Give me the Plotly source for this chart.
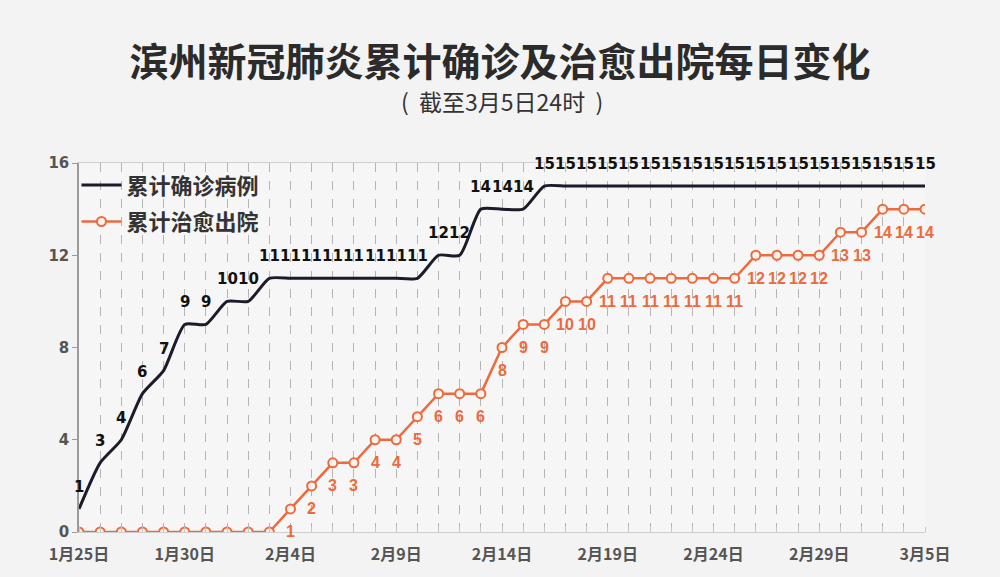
import plotly.graph_objects as go
import pandas as pd

# ---- data ----
dates = pd.date_range("2020-01-25", "2020-03-05", freq="D").strftime("%Y-%m-%d").tolist()
confirmed = [1, 3, 4, 6, 7, 9, 9, 10, 10,
             11, 11, 11, 11, 11, 11, 11, 11,
             12, 12,
             14, 14, 14,
             15, 15, 15, 15, 15, 15, 15, 15, 15, 15, 15, 15, 15, 15, 15, 15, 15, 15, 15]
recovered = [0, 0, 0, 0, 0, 0, 0, 0, 0, 0,
             1, 2, 3, 3, 4, 4, 5, 6, 6, 6, 8, 9, 9, 10, 10,
             11, 11, 11, 11, 11, 11, 11,
             12, 12, 12, 12,
             13, 13,
             14, 14, 14]
tick_dates = dates[::5]
tick_labels = ["1月25日", "1月30日", "2月4日", "2月9日", "2月14日", "2月19日", "2月24日", "2月29日", "3月5日"]
series_names = ["累计确诊病例", "累计治愈出院"]
title_text = "滨州新冠肺炎累计确诊及治愈出院每日变化"
subtitle_text = "(  截至3月5日24时  )"

BLACK = "#1b1b2a"
ORANGE = "#ec6a3e"
CJK = "Noto Sans CJK SC"

fig = go.Figure()
fig.add_trace(go.Scatter(
    x=dates, y=confirmed, name="<b>" + series_names[0] + "</b>", mode="lines",
    legendgroup="a",
    line=dict(color=BLACK, width=3, shape="spline", smoothing=0.6),
))
fig.add_trace(go.Scatter(
    x=dates, y=recovered, name="<b>" + series_names[1] + "</b>", mode="lines+markers",
    legendgroup="b",
    line=dict(color=ORANGE, width=2.5),
    marker=dict(symbol="circle", size=9, color="#fdf3ee", line=dict(color=ORANGE, width=2)),
))

for d, v in zip(dates, confirmed):
    fig.add_annotation(x=d, y=v, text="<b>%d</b>" % v, showarrow=False, yshift=22,
                       font=dict(family="DejaVu Sans", size=15, color="#111"),
                       xref="x", yref="y")
for d, v in zip(dates, recovered):
    if v == 0:
        continue
    fig.add_annotation(x=d, y=v, text="<b>%d</b>" % v, showarrow=False, yshift=-23,
                       font=dict(family="Liberation Sans Narrow, Liberation Sans", size=16, color=ORANGE),
                       xref="x", yref="y")

fig.add_annotation(text=subtitle_text, x=0.5, xref="paper", y=(532 - 101) / 369, yref="paper",
                   yanchor="middle", showarrow=False,
                   font=dict(family=CJK, size=23, color="#333"))

fig.update_layout(
    width=1000, height=577,
    margin=dict(l=79, r=75, t=163, b=45),
    paper_bgcolor="#f3f3f3", plot_bgcolor="#f6f6f6",
    title=dict(text="<b>" + title_text + "</b>", x=0.5, xanchor="center", y=1 - 62 / 577,
               yref="container", yanchor="middle",
               font=dict(family=CJK, size=39, color="#2b2b2b")),
    showlegend=True,
    legend=dict(x=-0.003, y=0.997, xanchor="left", yanchor="top", bgcolor="rgba(0,0,0,0)",
                font=dict(family=CJK, size=22, color="#333"), itemwidth=40, tracegroupgap=5),
    xaxis=dict(
        type="date", range=[dates[0], dates[-1]],
        tickmode="array", tickvals=tick_dates, ticktext=["<b>%s</b>" % t for t in tick_labels],
        tickfont=dict(family=CJK, size=16, color="#555"),
        ticklabelstandoff=8,
        showgrid=True, gridcolor="#b5b5b5", griddash="dash", gridwidth=1,
        showline=True, linecolor="#cfcfcf", linewidth=1, mirror=True,
        ticks="", zeroline=False,
        minor=dict(dtick=86400000, tick0=dates[0], showgrid=True, gridcolor="#b5b5b5",
                   griddash="dash", gridwidth=1, ticks="inside", ticklen=5, tickcolor="#c8c8c8"),
    ),
    yaxis=dict(
        range=[0, 16], dtick=4, tick0=0, showgrid=False, zeroline=False,
        showline=True, linecolor="#9a9a9a", linewidth=1.5,
        ticks="outside", ticklen=5, tickcolor="#9a9a9a",
        tickfont=dict(family="DejaVu Sans", size=15, color="#555"),
        tickprefix="<b>", ticksuffix="</b>",
    ),
)

fig.write_html("out.html")
